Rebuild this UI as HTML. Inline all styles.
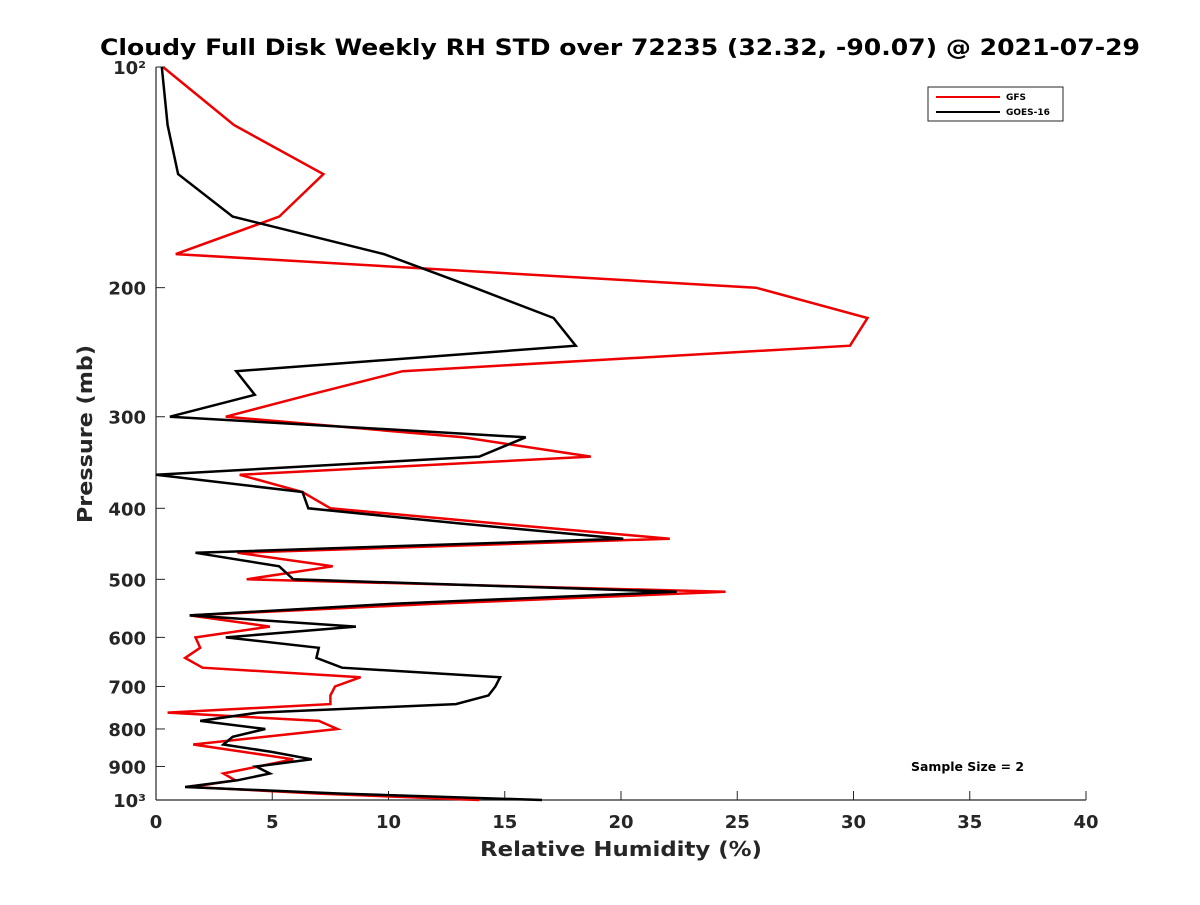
<!DOCTYPE html>
<html><head><meta charset="utf-8"><style>
body{margin:0;background:#fff;}
svg text{font-family:"DejaVu Sans","Liberation Sans",sans-serif;font-weight:bold;fill:#262626;}
</style></head><body>
<svg id="chart" width="1200" height="900" xmlns="http://www.w3.org/2000/svg">
<rect width="1200" height="900" fill="#fff"/>
<text x="100" y="55" font-size="22" textLength="1040" lengthAdjust="spacingAndGlyphs" style="fill:#000">Cloudy Full Disk Weekly RH STD over 72235 (32.32, -90.07) @ 2021-07-29</text>
<g id="axes"></g>
<g id="series"></g>
<g>
<rect x="928" y="87" width="135" height="34" fill="#fff" stroke="#262626" stroke-width="1"/>
<line x1="936" y1="97" x2="1000" y2="97" stroke="#e00" stroke-width="2"/>
<text x="1006" y="100" font-size="9" style="fill:#000">GFS</text>
<line x1="936" y1="112" x2="1000" y2="112" stroke="#000" stroke-width="2"/>
<text x="1006" y="115" font-size="9" style="fill:#000">GOES-16</text>
</g>
<text x="911" y="771" font-size="12" textLength="113" lengthAdjust="spacingAndGlyphs" style="fill:#000">Sample Size = 2</text>
<text x="480" y="856" font-size="20" textLength="282" lengthAdjust="spacingAndGlyphs">Relative Humidity (%)</text>
<text transform="translate(92,523) rotate(-90)" font-size="20" textLength="178" lengthAdjust="spacingAndGlyphs">Pressure (mb)</text>
</svg>
<script>
const levels=[100,120,140,160,180,200,220,240,260,280,300,320,340,360,380,400,420,440,460,480,500,520,540,560,580,600,620,640,660,680,700,720,740,760,780,800,820,840,860,880,900,920,940,960,980,1000];
const gfs=[0.3,3.35,7.2,5.3,0.85,25.8,30.6,29.85,10.6,6.6,3.0,13.2,18.7,3.6,6.3,7.5,14.8,22.1,3.5,7.6,3.9,24.5,12,1.45,4.9,1.7,1.9,1.25,2.0,8.8,7.7,7.5,7.5,0.5,7.0,7.8,4.7,1.6,3.8,5.9,4.4,2.9,3.4,1.5,7,13.9];
const goes=[0.25,0.5,0.95,3.3,9.8,13.7,17.1,18.05,3.45,4.25,0.6,15.9,13.9,0,6.3,6.55,13.2,20.1,1.7,5.3,5.9,22.4,10.2,1.45,8.6,3.0,7.0,6.9,8.0,14.8,14.6,14.3,12.9,4.4,1.9,4.7,3.3,2.9,5.0,6.7,4.3,4.9,3.5,1.25,8,16.6];
const xTicks=[0,5,10,15,20,25,30,35,40];
const yTicks=[100,200,300,400,500,600,700,800,900,1000];
const yTickLabels=["10²","200","300","400","500","600","700","800","900","10³"];
const X0=156,X1=1086,Y0=67,Y1=800;
function xs(v){return X0+(v-0)/(40-0)*(X1-X0);}
function ys(p){return Y0+Math.log10(p/100)*(Y1-Y0);}
const NS="http://www.w3.org/2000/svg";
const ax=document.getElementById('axes');
function mk(tag,attrs,parent){const e=document.createElementNS(NS,tag);for(const k in attrs)e.setAttribute(k,attrs[k]);parent.appendChild(e);return e;}
let l=mk('line',{x1:X0,y1:Y0,x2:X0,y2:Y1,stroke:'#262626','stroke-width':1.2},ax);


l=mk('line',{x1:X0,y1:Y1,x2:X1,y2:Y1,stroke:'#262626','stroke-width':1.2},ax);


xTicks.forEach(t=>{
 const x=xs(t);
 const tk=mk('line',{x1:x,y1:Y1,x2:x,y2:Y1-9,stroke:'#262626','stroke-width':1},ax);
 
 
 const tx=mk('text',{x:x,y:Y1+28,'text-anchor':'middle','font-size':18},ax);
 tx.textContent=t;
 
 
});
yTicks.forEach((t,i)=>{
 const y=ys(t);
 const tk=mk('line',{x1:X0,y1:y,x2:X0+9,y2:y,stroke:'#262626','stroke-width':1},ax);
 
 
 const tx=mk('text',{x:X0-10,y:y+7,'text-anchor':'end','font-size':18},ax);
 tx.textContent=yTickLabels[i];
 
 
});
const sg=document.getElementById('series');
function line(vals,color,name){
 const pts=vals.map((v,i)=>xs(v).toFixed(1)+','+ys(levels[i]).toFixed(1)).join(' ');
 const p=mk('polyline',{points:pts,fill:'none',stroke:color,'stroke-width':2.5,'stroke-linejoin':'miter'},sg);
 
 
}
line(gfs,'#e00','gfs-line');
line(goes,'#000','goes16-line');
</script>
</body></html>
